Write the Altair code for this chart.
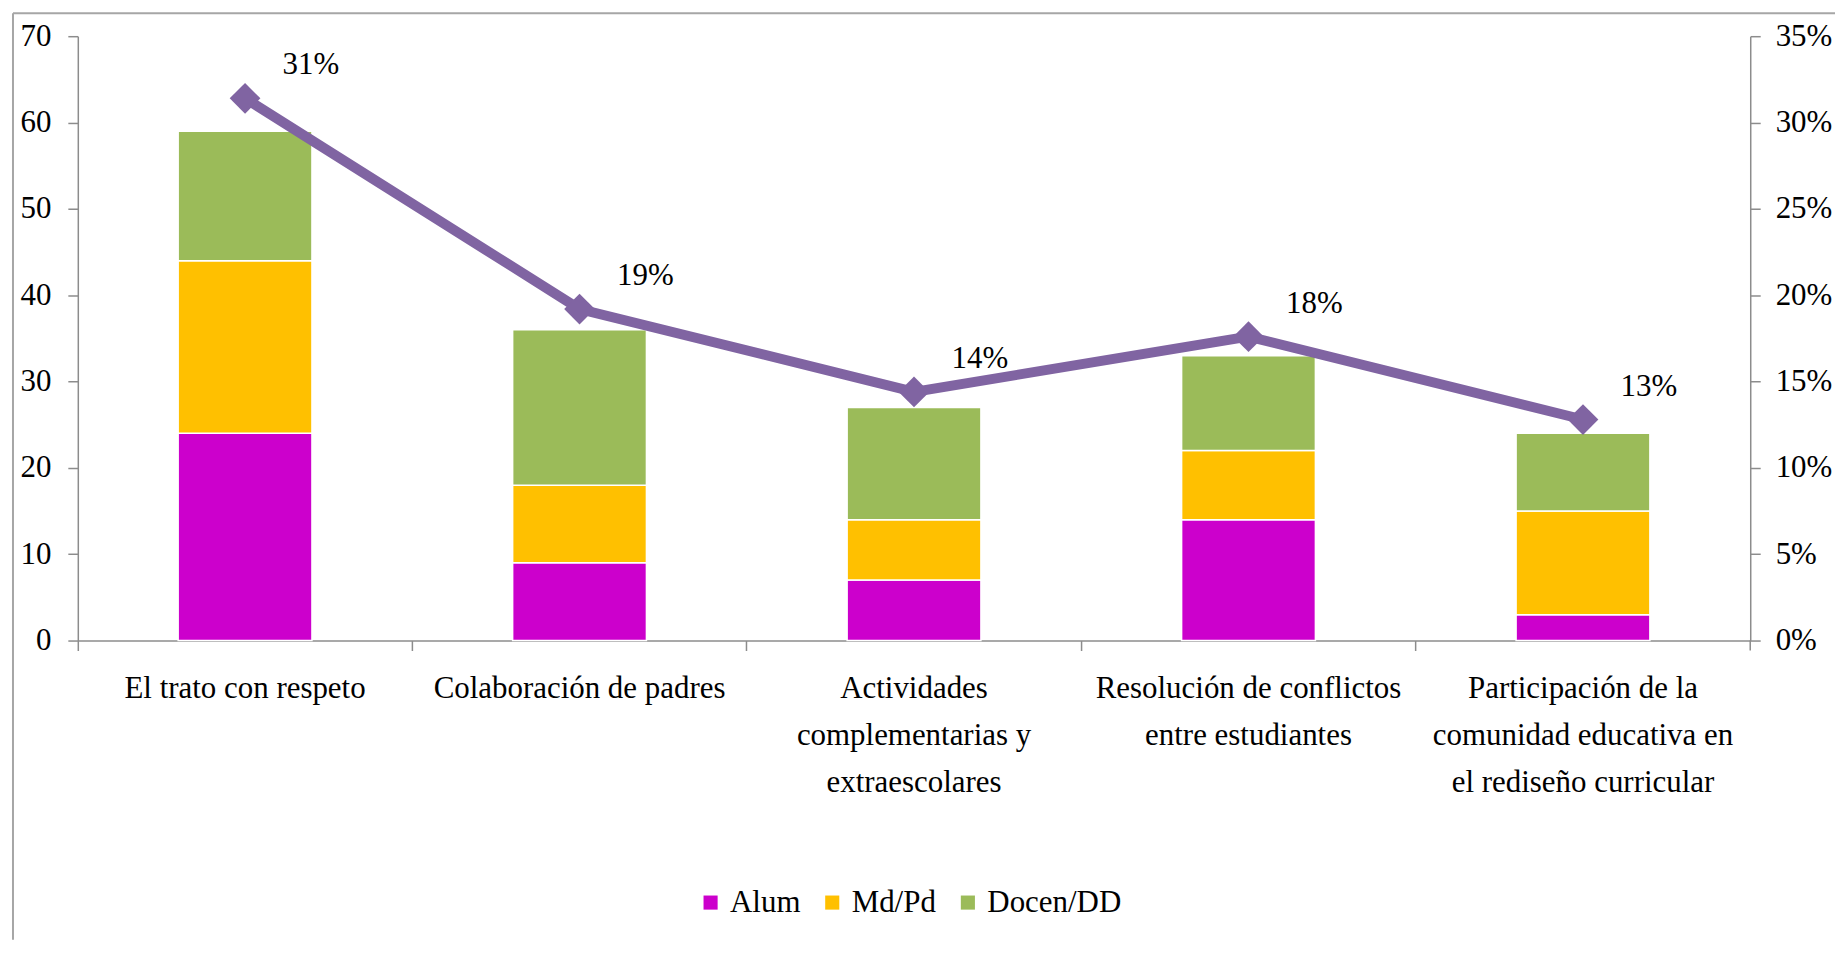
import altair as alt
import pandas as pd

# ---- data ----
categories = [
    "El trato con respeto",
    "Colaboración de padres",
    "Actividades complementarias y extraescolares",
    "Resolución de conflictos entre estudiantes",
    "Participación de la comunidad educativa en el rediseño curricular",
]
label_lines = [
    ["El trato con respeto"],
    ["Colaboración de padres"],
    ["Actividades", "complementarias y", "extraescolares"],
    ["Resolución de conflictos", "entre estudiantes"],
    ["Participación de la", "comunidad educativa en", "el rediseño curricular"],
]
series = ["Alum", "Md/Pd", "Docen/DD"]
series_colors = ["#CC00CC", "#FFC000", "#9BBB59"]
alum = [24, 9, 7, 14, 3]
md_pd = [20, 9, 7, 8, 12]
docen = [15, 18, 13, 11, 9]
pct = [0.314, 0.192, 0.144, 0.176, 0.128]

FONT = "Liberation Serif"
FS = 31
AXIS_GRAY = "#8c8c8c"
W, H = 1677, 606

rows = []
for i, c in enumerate(categories):
    for k, (s, vals) in enumerate(zip(series, [alum, md_pd, docen])):
        rows.append({"cat": c, "serie": s, "value": vals[i], "ord": k})
bars_df = pd.DataFrame(rows)
line_df = pd.DataFrame({"cat": categories, "pct": pct})

label_map = "{" + ", ".join(
    "'" + c + "': [" + ", ".join("'" + l + "'" for l in lines) + "]"
    for c, lines in zip(categories, label_lines)
) + "}"

xscale = alt.Scale(paddingInner=0, paddingOuter=0)
pscale = alt.Scale(domain=[0, 0.35], nice=False)

bars = alt.Chart(bars_df).mark_bar(
    width=alt.RelativeBandSize(0.4), stroke="white", strokeWidth=1.5
).encode(
    x=alt.X("cat:N", sort=categories, scale=xscale,
            axis=alt.Axis(orient="bottom", bandPosition=0, labels=False, ticks=True,
                          tickSize=10, tickColor=AXIS_GRAY, tickWidth=1.5,
                          domainColor=AXIS_GRAY, domainWidth=1.5, title=None,
                          grid=False)),
    y=alt.Y("value:Q", stack="zero",
            scale=alt.Scale(domain=[0, 70], nice=False),
            axis=alt.Axis(values=list(range(0, 71, 10)), title=None, grid=False,
                          tickSize=10, tickColor=AXIS_GRAY, tickWidth=1.5,
                          domainColor=AXIS_GRAY, domainWidth=1.5,
                          labelFont=FONT, labelFontSize=FS, labelColor="black",
                          labelPadding=17)),
    color=alt.Color("serie:N", sort=series,
                    scale=alt.Scale(domain=series, range=series_colors),
                    legend=alt.Legend(orient="none", legendX=619, legendY=853,
                                      direction="horizontal", title=None,
                                      symbolType="square", symbolSize=200,
                                      symbolStrokeWidth=0,
                                      labelFont=FONT, labelFontSize=FS,
                                      labelColor="black", labelOffset=4,
                                      columnPadding=16)),
    order=alt.Order("ord:Q", sort="ascending"),
)

line = alt.Chart(line_df).mark_line(color="#8064A2", strokeWidth=10).encode(
    x=alt.X("cat:N", sort=categories, scale=xscale,
            axis=alt.Axis(orient="bottom", ticks=False, tickSize=0, domain=False,
                          title=None,
                          labelExpr=label_map + "[datum.label]",
                          labelFont=FONT, labelFontSize=FS, labelColor="black",
                          labelAngle=0, labelPadding=33, labelLineHeight=47,
                          labelLimit=0, labelOverlap=False, grid=False)),
    y=alt.Y("pct:Q", scale=pscale,
            axis=alt.Axis(orient="right", values=[0, 0.05, 0.10, 0.15, 0.20, 0.25, 0.30, 0.35],
                          format=".0%", title=None, grid=False,
                          tickSize=10, tickColor=AXIS_GRAY, tickWidth=1.5,
                          domainColor=AXIS_GRAY, domainWidth=1.5,
                          labelFont=FONT, labelFontSize=FS, labelColor="black",
                          labelPadding=15)),
)

points = alt.Chart(line_df).mark_point(
    shape="diamond", filled=True, size=950, color="#8064A2", opacity=1
).encode(
    x=alt.X("cat:N", sort=categories, scale=xscale, axis=None),
    y=alt.Y("pct:Q", scale=pscale, axis=None),
)

labels = alt.Chart(line_df).mark_text(
    dx=66, dy=-33, font=FONT, fontSize=FS, color="black"
).encode(
    x=alt.X("cat:N", sort=categories, scale=xscale, axis=None),
    y=alt.Y("pct:Q", scale=pscale, axis=None),
    text=alt.Text("pct:Q", format=".0%"),
)

one = pd.DataFrame({"a": [0]})
last_tick = alt.Chart(one).mark_rule(color=AXIS_GRAY, strokeWidth=1.5).encode(
    x=alt.value(W), y=alt.value(H), y2=alt.value(H + 10)
)
frame_top = alt.Chart(one).mark_rule(color="#a6a6a6", strokeWidth=2).encode(
    x=alt.value(-65), x2=alt.value(W + 90), y=alt.value(-23)
)
frame_left = alt.Chart(one).mark_rule(color="#a6a6a6", strokeWidth=2).encode(
    x=alt.value(-65), y=alt.value(-23), y2=alt.value(H + 300)
)

chart = alt.layer(
    frame_top, frame_left, bars, line, points, labels, last_tick
).resolve_scale(y="independent").resolve_axis(x="independent").properties(
    width=W, height=H,
    autosize=alt.AutoSizeParams(type="none"),
    padding={"left": 70, "top": 27, "right": 85, "bottom": 300},
).configure_view(strokeWidth=0)

chart.save("out.html", embed_options={"renderer": "svg", "actions": False})
